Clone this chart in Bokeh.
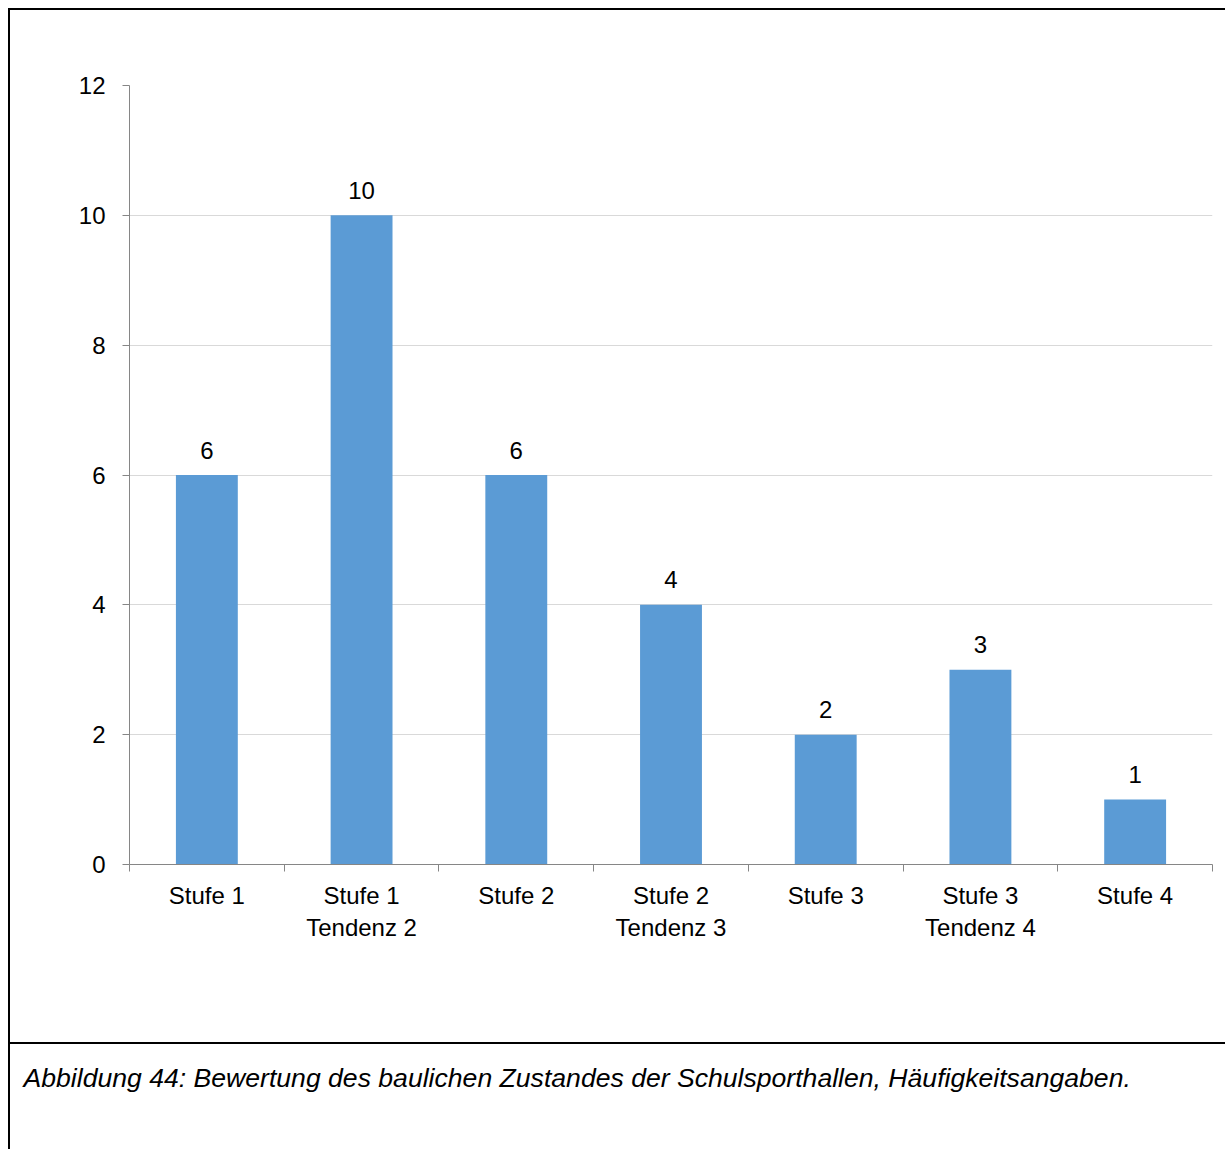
from bokeh.plotting import figure
from bokeh.models import FixedTicker, Range1d, ColumnDataSource
from bokeh.core.properties import value
from bokeh.embed import file_html
from bokeh.resources import INLINE

categories = ["Stufe 1", "Stufe 1\nTendenz 2", "Stufe 2", "Stufe 2\nTendenz 3",
              "Stufe 3", "Stufe 3\nTendenz 4", "Stufe 4"]
values = [6, 10, 6, 4, 2, 3, 1]
y_ticks = [0, 2, 4, 6, 8, 10, 12]
caption = "Abbildung 44: Bewertung des baulichen Zustandes der Schulsporthallen, Häufigkeitsangaben."

FONT = "Liberation Sans"
AXIS_COLOR = "#868686"
BAR_COLOR = "#5B9BD5"

n = len(categories)
centers = [i + 0.5 for i in range(n)]
bounds = list(range(n + 1))

src = ColumnDataSource(dict(x=centers, top=values, label=[str(v) for v in values]))

p = figure(width=1217, height=1036, output_backend="svg", toolbar_location=None,
           x_range=Range1d(0, n), y_range=Range1d(0, 12),
           min_border_left=119, min_border_right=15, min_border_top=75, min_border_bottom=182,
           styles={"margin-left": "8px", "margin-top": "8px",
                   "border-left": "2px solid black", "border-top": "2px solid black",
                   "border-bottom": "2px solid black"})
p.outline_line_color = None

p.vbar(x="x", top="top", bottom=0, width=0.4, source=src, fill_color=BAR_COLOR, line_color=None)
p.text(x="x", y="top", text="label", source=src, text_align="center", text_baseline="alphabetic",
       y_offset=-25, text_font_size="24px", text_font=value(FONT), text_color="black")

# y axis
yax = p.yaxis[0]
yax.ticker = FixedTicker(ticks=y_ticks)
yax.axis_line_color = AXIS_COLOR
yax.major_tick_line_color = AXIS_COLOR
yax.major_tick_out = 7
yax.major_tick_in = 0
yax.minor_tick_line_color = None
yax.major_label_standoff = 17
yax.major_label_text_font = FONT
yax.major_label_text_font_size = "24px"
yax.major_label_text_color = "black"

# x axis
xax = p.xaxis[0]
xax.ticker = FixedTicker(ticks=centers, minor_ticks=bounds)
xax.axis_line_color = AXIS_COLOR
xax.major_tick_line_color = None
xax.minor_tick_line_color = AXIS_COLOR
xax.minor_tick_out = 7
xax.minor_tick_in = 0
xax.major_tick_out = 7
xax.major_tick_in = 0
xax.major_label_standoff = 10
xax.major_label_overrides = {c: lab for c, lab in zip(centers, categories)}
xax.major_label_text_font = FONT
xax.major_label_text_font_size = "24px"
xax.major_label_text_color = "black"

p.xgrid.grid_line_color = None
p.ygrid.ticker = FixedTicker(ticks=y_ticks)
p.ygrid.grid_line_color = "#D9D9D9"
p.ygrid.grid_line_width = 1

# caption panel (separate root, so its frame is not aligned with the chart's)
cap_src = ColumnDataSource(dict(x=[13], y=[72], t=[caption]))
c = figure(width=1217, height=105, output_backend="svg", toolbar_location=None,
           x_range=Range1d(0, 1217), y_range=Range1d(0, 105),
           min_border=0, min_border_left=0, min_border_right=0, min_border_top=0, min_border_bottom=0,
           styles={"margin-left": "8px", "border-left": "2px solid black"})
c.axis.visible = False
c.grid.visible = False
c.outline_line_color = None
c.text(x="x", y="y", text="t", source=cap_src, text_font=value(FONT), text_font_style="italic",
       text_font_size="26.6px", text_baseline="middle", text_align="left", text_color="black")

open("out.html", "w").write(file_html([p, c], INLINE))
